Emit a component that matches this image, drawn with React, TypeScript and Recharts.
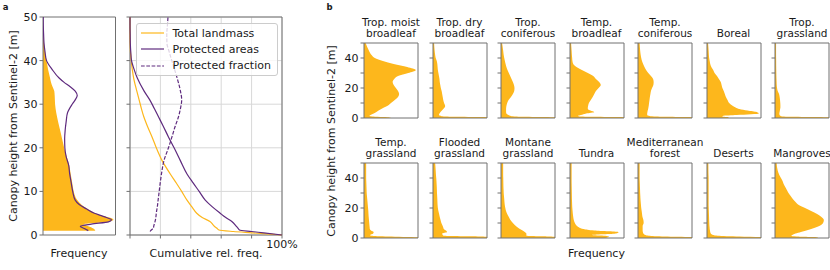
import React from 'react';
import { ComposedChart, Area, Line, XAxis, YAxis, ReferenceArea, CartesianGrid, Legend } from 'recharts';

const FONT = '"DejaVu Sans", Verdana, sans-serif';
const ORANGE = '#FDB71C';
const PURPLE = '#5E2A7E';
const FRAME = '#707070';
const TEXT = '#1a1a1a';

// ---------- panel a: frequency ----------
const freqHeights = [1, 1.5, 2, 2.5, 3, 3.5, 4, 4.5, 5, 6, 7, 8, 10, 12, 14, 16, 18, 20, 22, 24, 26, 28, 30, 31, 32, 33, 34, 35, 36, 38, 40, 42, 44, 46, 48, 50];
const totalFreq = [52, 50, 45, 40, 64, 70, 66, 58, 52, 44, 38, 34, 30.5, 29, 27.5, 26, 23.5, 21, 19, 17, 15, 13.2, 12, 11.8, 11.6, 11.2, 9.5, 8, 7, 5, 3.5, 2, 1, 0.4, 0.1, 0];
const protectedFreq = [45, 41, 37, 48, 65, 68, 63, 57, 51, 43, 36, 32, 29.5, 28, 26.5, 25.5, 23, 21.7, 21.5, 22, 23, 24.3, 29, 32, 34, 32, 27, 21, 16, 9, 3.5, 2, 1, 0.6, 0.3, 0.2];

// ---------- panel a: cumulative ----------
const cumHeights = [0, 0.5, 0.8, 1.15, 1.6, 2, 3.1, 4, 5, 6.5, 8, 10, 12, 14, 17, 20, 22.5, 25, 27, 29, 31, 33, 36, 38, 40, 42, 44, 46, 48, 50];
const totalCum = [100, 80, 68, 58.5, 57, 55.5, 52.6, 47.5, 43.9, 40.6, 37.5, 34, 30.3, 26.5, 21.2, 17.3, 14.5, 11.4, 9.2, 7.5, 6, 4.5, 2.4, 1.5, 0.8, 0.3, 0.1, 0, 0, 0];
const protectedCum = [100, 88, 80, 72, 71, 70, 67, 63, 59.3, 54, 49.5, 45.5, 41.4, 37.5, 33.2, 29, 25.3, 21.8, 18.9, 16, 13, 9.3, 4.8, 2.7, 1, 0.5, 0.2, 0.1, 0, 0];
const protectedFraction = [null, null, 13.2, 14, 15.4, 15.6, 16.5, 17, 17.3, 18, 18.5, 19.2, 19.9, 20.7, 22.3, 25.3, 27.6, 29.8, 31.8, 33.2, 34, 33.2, 31, 29.3, 27.5, 25.8, 24.3, 24.2, 24.6, 25];
const legendOrder = ['Total landmass', 'Protected areas', 'Protected fraction'];

const heightTicks = [0, 10, 20, 30, 40, 50];
const pctTicks = [0, 20, 40, 60, 80, 100];

// ---------- panel b: biomes ----------
const biomeHeights = [0, 0.5, 1, 1.5, 2, 3, 4, 5, 6, 7, 8, 10, 12, 14, 16, 18, 20, 22, 24, 26, 28, 30, 32, 34, 36, 38, 40, 42, 45, 50];
const tropMoistBroadleaf = [50, 45, 15, 10, 12, 18, 23, 27, 32, 37, 43, 50, 57, 63, 65, 63, 59, 55, 53, 56, 63, 82, 96, 80, 55, 35, 20, 14, 9, 3];
const tropDryBroadleaf = [130, 110, 20, 14, 11, 12, 14, 16.5, 19, 21.5, 22.5, 20.5, 19, 18, 17, 16, 14.5, 13.5, 12.5, 12, 11, 10, 9, 8.5, 8, 7, 5, 4, 3, 2];
const tropConiferous = [130, 100, 25, 17, 14, 10, 9.4, 9.4, 9.4, 9.6, 10, 11.5, 14, 18.5, 22, 24.5, 25, 24, 22, 19.5, 17, 14.5, 12, 10, 8.5, 7.2, 6, 5, 4, 2];
const tempBroadleaf = [130, 110, 18, 15, 20, 30, 45, 38, 33, 33, 33.5, 35, 38.5, 42, 45, 48, 53, 57, 54, 48, 43, 33, 22, 12, 6, 4.5, 4, 3.5, 3, 2];
const tempConiferous = [130, 110, 30, 20, 17, 17, 17.5, 18, 18.8, 19.3, 19.8, 20.5, 21.3, 22, 23, 24, 26, 28.5, 29, 28, 24, 19, 15, 12, 9.5, 7.4, 6, 5, 4, 3];
const boreal = [40, 40, 28, 30, 55, 96, 92, 75, 60, 53, 48, 41, 38, 35, 33, 31, 28.5, 27, 25.5, 22, 18.5, 14, 11.5, 8, 6, 5, 4, 3.5, 3, 2];
const tropGrassland = [130, 100, 13, 10, 8.5, 8, 8.5, 9, 9.5, 10, 10, 9.8, 9.3, 8.6, 7.5, 5, 3.8, 3.2, 3, 2.8, 2.6, 2.5, 2.4, 2.3, 2.2, 2.2, 2.1, 2, 2, 2];
const tempGrassland = [130, 100, 45, 14, 11, 17, 18, 13, 10.8, 10.5, 10.2, 9.7, 9.2, 8.7, 8.3, 8, 7.5, 7, 6.5, 6, 5.5, 5, 4.8, 4.6, 4.4, 4.2, 4, 4, 4, 4];
const floodedGrassland = [130, 110, 90, 20, 18, 17, 26, 24, 20, 19, 18, 15.5, 14, 12.5, 11.3, 10, 9, 8.5, 8.2, 8, 7.7, 7.4, 7.2, 7, 6.7, 6.4, 6, 5.5, 5, 4];
const montaneGrassland = [130, 110, 90, 47, 47, 47, 44, 40, 35, 31, 27.5, 22, 17.5, 14.5, 11.5, 9.3, 8, 7, 6.4, 6, 5.5, 5, 4.8, 4.5, 4.4, 4.3, 4.2, 4, 4, 4];
const tundra = [65, 70, 72, 65, 40, 85, 90, 45, 25, 17, 13, 9, 7, 6, 5.3, 4.8, 4.3, 4, 3.8, 3.6, 3.5, 3.4, 3.3, 3.2, 3.1, 3, 3, 3, 3, 3];
const mediterranean = [130, 110, 50, 20, 14, 10, 9, 8.6, 8.6, 8.6, 8.6, 10.5, 10, 8.3, 7.5, 6.8, 6, 5.5, 5, 4.6, 4.3, 4, 3.8, 3.6, 3.4, 3.2, 3, 3, 3, 3];
const deserts = [130, 110, 60, 20, 12, 7, 6, 5.5, 5, 4.8, 4.5, 4.2, 4, 3.8, 3.6, 3.4, 3.2, 3, 3, 3, 3, 3, 3, 3, 3, 3, 3, 2.8, 2.6, 2.5];
const mangroves = [80, 78, 40, 30, 32, 38, 48, 58, 67, 75, 82, 89, 90.5, 86, 78, 67, 55.7, 44, 38, 33, 29, 25, 22, 19, 16, 14, 11, 8, 5, 3];

const biomeTitles = [
  'Trop. moist\nbroadleaf', 'Trop. dry\nbroadleaf', 'Trop.\nconiferous', 'Temp.\nbroadleaf', 'Temp.\nconiferous', 'Boreal', 'Trop.\ngrassland',
  'Temp.\ngrassland', 'Flooded\ngrassland', 'Montane\ngrassland', 'Tundra', 'Mediterranean\nforest', 'Deserts', 'Mangroves',
];
const biomeValues = [
  tropMoistBroadleaf, tropDryBroadleaf, tropConiferous, tempBroadleaf, tempConiferous, boreal, tropGrassland,
  tempGrassland, floodedGrassland, montaneGrassland, tundra, mediterranean, deserts, mangroves,
];

// layout
const B_LEFTS = [364, 432.5, 501, 569.5, 638, 706.5, 775];
const B_TOPS = [43, 163];
const B_W = 54;
const B_H = 75;
const B_PAD = 9;

const tickStyle = { fontSize: 11, fill: TEXT, fontFamily: FONT };

function Txt({ x, y, children, rotate = false, size = 11, bold = false }: any) {
  return (
    <div style={{ position: 'absolute', left: x, top: y, transform: `translate(-50%,-50%)${rotate ? ' rotate(-90deg)' : ''}`, fontSize: size, whiteSpace: 'nowrap', lineHeight: 1, fontWeight: bold ? 'bold' : 'normal' }}>
      {children}
    </div>
  );
}

function FreqChart() {
  const rows = freqHeights.map((h, i) => ({ h, total: totalFreq[i], prot: protectedFreq[i] }));
  return (
    <ComposedChart width={130} height={270} layout="vertical" data={rows} margin={{ top: 17, right: 14.5, bottom: 35, left: 15 }}>
      <XAxis type="number" domain={[0, 72]} hide allowDataOverflow />
      <YAxis type="number" dataKey="h" reversed domain={[0, 50]} ticks={heightTicks} interval={0} width={28} axisLine={false} tickSize={3.5} tickLine={{ stroke: FRAME }} tick={tickStyle} />
      <Area dataKey="total" type="monotone" fill={ORANGE} fillOpacity={1} stroke="none" isAnimationActive={false} />
      <Line dataKey="prot" type="monotone" stroke={PURPLE} strokeWidth={1.2} dot={false} isAnimationActive={false} />
      <ReferenceArea x1={0} x2={72} y1={0} y2={50} fill="none" stroke={FRAME} strokeWidth={1} />
    </ComposedChart>
  );
}

function LegendBox(props: any) {
  const items = [...(props.payload || [])].sort((a: any, b: any) => legendOrder.indexOf(a.value) - legendOrder.indexOf(b.value));
  return (
    <div style={{ background: 'rgba(255,255,255,0.8)', border: '1px solid #cccccc', borderRadius: 3, padding: '1px 6px 1px 4px', fontFamily: FONT, fontSize: 11, color: TEXT }}>
      {items.map((it: any) => (
        <div key={it.value} style={{ display: 'flex', alignItems: 'center', height: 16.3 }}>
          <svg width={23} height={4} style={{ marginRight: 8.5 }}>
            <line x1={0} y1={2} x2={23} y2={2} stroke={it.color} strokeWidth={1.2} strokeDasharray={it.payload && it.payload.strokeDasharray ? it.payload.strokeDasharray : undefined} />
          </svg>
          <span style={{ whiteSpace: 'nowrap' }}>{it.value}</span>
        </div>
      ))}
    </div>
  );
}

function CumChart() {
  const rows = cumHeights.map((h, i) => ({ h, total: totalCum[i], prot: protectedCum[i], frac: protectedFraction[i] }));
  return (
    <ComposedChart width={190} height={270} layout="vertical" data={rows} margin={{ top: 17, right: 28, bottom: 15, left: 4 }}>
      <CartesianGrid stroke="#d8d8d8" strokeWidth={1} />
      <XAxis type="number" domain={[0, 100]} ticks={pctTicks} interval={0} height={20} axisLine={false} tickSize={3.5} tickLine={{ stroke: FRAME }} tick={tickStyle} tickFormatter={(v: number) => (v === 100 ? '100%' : '')} />
      <YAxis type="number" dataKey="h" reversed domain={[0, 50]} ticks={heightTicks} interval={0} width={6} axisLine={false} tickSize={3.5} tickLine={{ stroke: FRAME }} tick={tickStyle} tickFormatter={() => ''} />
      <Line dataKey="total" name="Total landmass" type="monotone" stroke={ORANGE} strokeWidth={1.2} dot={false} isAnimationActive={false} />
      <Line dataKey="prot" name="Protected areas" type="monotone" stroke={PURPLE} strokeWidth={1.2} dot={false} isAnimationActive={false} />
      <Line dataKey="frac" name="Protected fraction" type="monotone" stroke={PURPLE} strokeWidth={1.2} strokeDasharray="3.7 1.6" dot={false} isAnimationActive={false} />
      <ReferenceArea x1={0} x2={100} y1={0} y2={50} fill="none" stroke={FRAME} strokeWidth={1} />
      <Legend layout="vertical" align="center" verticalAlign="middle" content={<LegendBox />} wrapperStyle={{ left: 16, top: 23, right: 'auto', bottom: 'auto', width: 'auto' }} />
    </ComposedChart>
  );
}

function BiomeChart({ values, showLabels }: { values: number[]; showLabels: boolean }) {
  const rows = biomeHeights.map((h, i) => ({ h, v: values[i] }));
  return (
    <ComposedChart width={30 + B_W + 3} height={B_H + 2 * B_PAD} layout="vertical" data={rows} margin={{ top: B_PAD, right: 3, bottom: B_PAD, left: 0 }}>
      <XAxis type="number" domain={[0, 100]} hide allowDataOverflow />
      <YAxis type="number" dataKey="h" reversed domain={[0, 50]} ticks={heightTicks} interval={0} width={30} axisLine={false} tickSize={3.5} tickLine={{ stroke: FRAME }} tick={tickStyle}
        tickFormatter={(v: number) => (showLabels && v % 20 === 0 && v < 50 ? String(v) : '')} />
      <Area dataKey="v" type="monotone" fill={ORANGE} fillOpacity={1} stroke="none" isAnimationActive={false} />
      <ReferenceArea x1={0} x2={100} y1={0} y2={50} fill="none" stroke={FRAME} strokeWidth={1} />
    </ComposedChart>
  );
}

export default function App() {
  return (
    <div style={{ position: 'absolute', left: 0, top: 0, width: 830, height: 270, background: '#fff', fontFamily: FONT, color: TEXT, overflow: 'hidden' }}>
      <div style={{ position: 'absolute', left: 0, top: 0 }}><FreqChart /></div>
      <div style={{ position: 'absolute', left: 120, top: 0 }}><CumChart /></div>
      {biomeValues.map((vals, i) => {
        const col = i % 7;
        const row = Math.floor(i / 7);
        const L = B_LEFTS[col];
        const T = B_TOPS[row];
        return (
          <React.Fragment key={i}>
            <div style={{ position: 'absolute', left: L - 30, top: T - B_PAD }}>
              <BiomeChart values={vals} showLabels={col === 0} />
            </div>
            <div style={{ position: 'absolute', left: L + B_W / 2, bottom: 270 - (T - 3.5), transform: 'translateX(-50%)', textAlign: 'center', fontSize: 10.5, lineHeight: '11.5px', whiteSpace: 'pre' }}>
              {biomeTitles[i]}
            </div>
          </React.Fragment>
        );
      })}
      <Txt x={5.5} y={7} size={8.5} bold>a</Txt>
      <Txt x={329.5} y={7} size={8.5} bold>b</Txt>
      <Txt x={12.5} y={126} rotate>Canopy height from Sentinel-2 [m]</Txt>
      <Txt x={79} y={253}>Frequency</Txt>
      <Txt x={206} y={253}>Cumulative rel. freq.</Txt>
      <Txt x={331} y={140.5} rotate>Canopy height from Sentinel-2 [m]</Txt>
      <Txt x={596.5} y={253}>Frequency</Txt>
    </div>
  );
}
